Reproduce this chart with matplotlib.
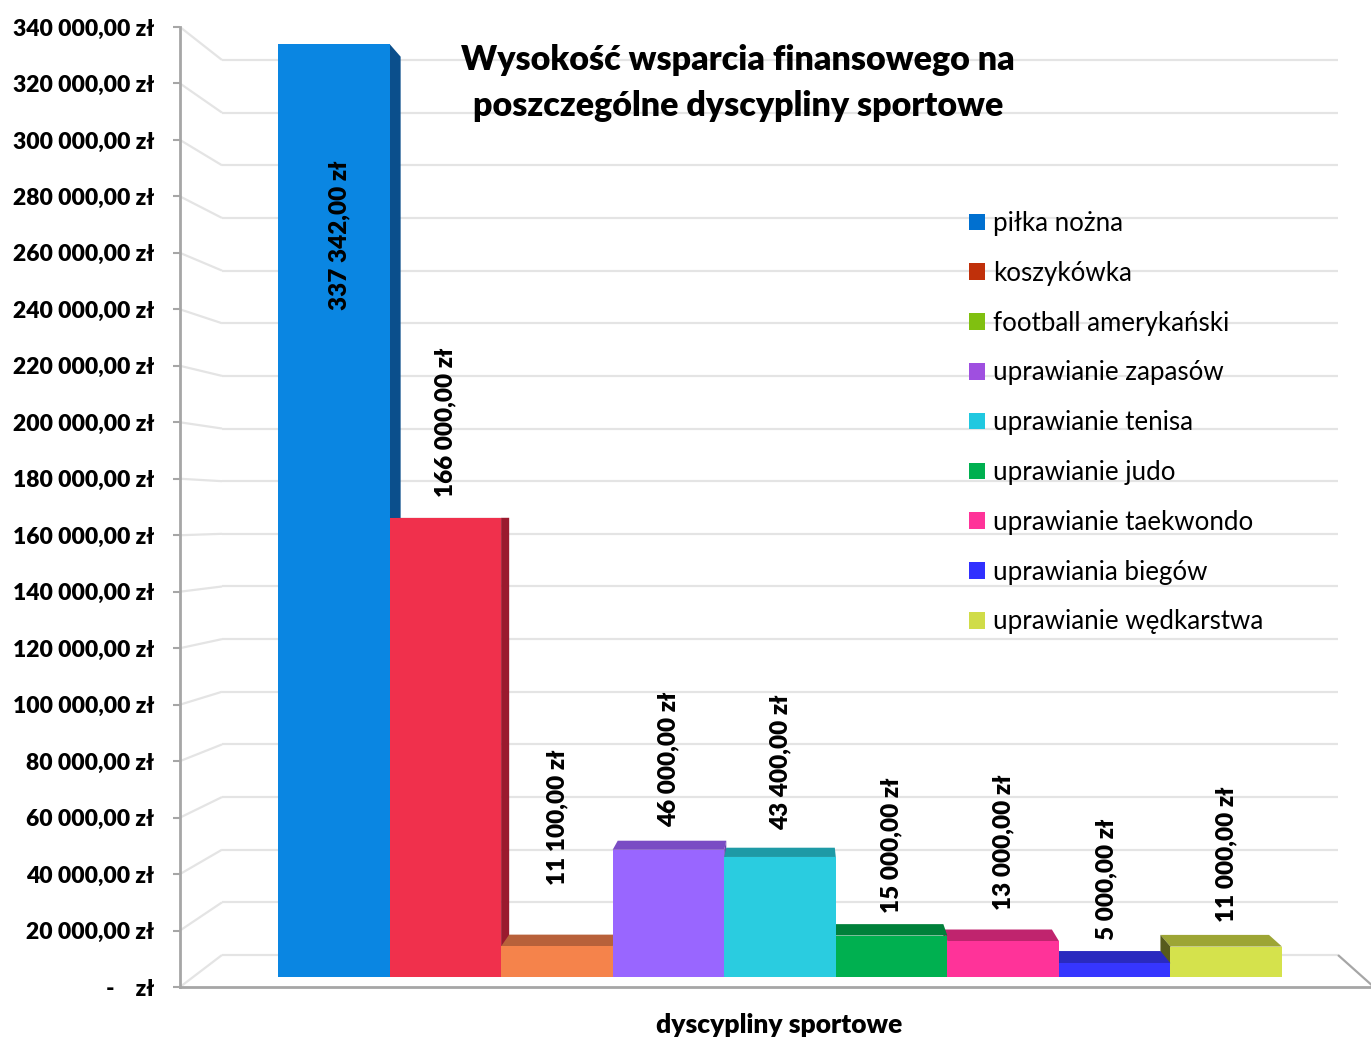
import matplotlib
matplotlib.use('Agg')
import matplotlib.pyplot as plt
from matplotlib.patches import Polygon, Patch
from matplotlib.lines import Line2D
import numpy as np

# ---------------- data ----------------
categories = ['piłka nożna', 'koszykówka', 'football amerykański', 'uprawianie zapasów',
              'uprawianie tenisa', 'uprawianie judo', 'uprawianie taekwondo',
              'uprawiania biegów', 'uprawianie wędkarstwa']
values = [337342.00, 166000.00, 11100.00, 46000.00, 43400.00, 15000.00, 13000.00, 5000.00, 11000.00]
y_ticks = list(range(0, 340001, 20000))
title_text = 'Wysokość wsparcia finansowego na\nposzczególne dyscypliny sportowe'
x_label = 'dyscypliny sportowe'

# ---------------- styles ----------------
front_colors = ['#0A86E2', '#F0304C', '#F5834B', '#9966FF', '#2ACCE0', '#00B050', '#FF3399', '#3636FF', '#D5E24C']
top_colors = ['#0B5FA8', '#B3243A', '#B8613A', '#7A4CC4', '#1E9AA6', '#00803A', '#C0246E', '#2A2ABF', '#9DA535']
side_colors = ['#0B4F8C', '#9A1A2E', '#A0502E', '#6A40B0', '#1A8896', '#006E32', '#A81E60', '#2222A0', '#575B1C']
legend_colors = ['#0070D0', '#C0300A', '#80C010', '#9F4FE0', '#20C8E0', '#00B050', '#FF3399', '#3030FF', '#D0DC48']
# label placement in pixels: (dx, distance from bar top to label bottom)
label_dx_px = [6, 0, 0, 0, 0, 0, 0, -8, 0]
label_dy_px = [-266, 21, 61, 23, 27, 23, 31, 23, 25]

FONT = 'Lato'
BOLD = 'heavy'
W, H = 1371, 1039
fig = plt.figure(figsize=(W / 100, H / 100), dpi=100)
fig.patch.set_facecolor('white')


def fx(x):
    return x / W


def fy(y):
    return 1 - y / H


def pline(xs, ys, color, lw, z=-1):
    fig.add_artist(Line2D([fx(x) for x in xs], [fy(y) for y in ys], color=color, lw=lw,
                          transform=fig.transFigure, zorder=z, solid_capstyle='butt'))


# ---------------- walls (back gridlines) ----------------
grid_c = '#E4E4E4'
for v in y_ticks:
    yb = 955 - v * 895 / 340000
    yf = 987 - v * 960 / 340000
    pline([222, 1338], [yb, yb], grid_c, 1.6)
    pline([180, 222], [yf, yb], grid_c, 1.6)
pline([1338, 1375], [955, 988], '#A6A6A6', 1.6)

# ---------------- front axis ----------------
ax = fig.add_axes([fx(180), fy(987), fx(1371) - fx(180), fy(27) - fy(987)])
ax.set_facecolor('none')
ax.set_ylim(0, 340000)
ax.set_xlim(0, 1)
for s in ['top', 'right']:
    ax.spines[s].set_visible(False)
for s in ['left', 'bottom']:
    ax.spines[s].set_color('#A6A6A6')
    ax.spines[s].set_linewidth(2)
ax.set_xticks([])


def fmt(v):
    if v == 0:
        return '-    zł'
    return f'{v:,.2f}'.replace(',', ' ').replace('.', ',') + ' zł'


ax.set_yticks(y_ticks)
ax.set_yticklabels([fmt(v) for v in y_ticks], fontfamily=FONT, fontweight=BOLD, fontsize=16.5)
ax.tick_params(axis='y', length=5, width=1.5, color='#A6A6A6', pad=13.5)

# ---------------- bars ----------------
ax_bar = fig.add_axes([fx(278), fy(977), fx(1282) - fx(278), fy(977 - 340000 * 933 / 337342) - fy(977)])
ax_bar.set_xlim(-0.5, len(values) - 0.5)
ax_bar.set_ylim(0, 340000)
ax_bar.axis('off')
ax_bar.set_facecolor('none')

x = np.arange(len(values))
bars = ax_bar.bar(x, values, width=1.0, color=front_colors, edgecolor='none')

VX, VY = 800, H - 514  # vanishing point in display coords
K = 0.027

fig.canvas.draw()
trans = ax_bar.transData

# drawing order: left bars left->right, right bars right->left, center last
order = {}
n = len(values)
lefts = [i for i in range(n) if trans.transform((i + 0.5, 0))[0] < VX]
rights = [i for i in range(n) if trans.transform((i - 0.5, 0))[0] > VX]
centers = [i for i in range(n) if i not in lefts and i not in rights]
seq = lefts + rights[::-1] + centers
for rank, i in enumerate(seq):
    order[i] = 2 + rank


def back(p):
    return (p[0] + K * (VX - p[0]), p[1] + K * (VY - p[1]))


def to_fig(pts):
    return [(p[0] / W, p[1] / H) for p in pts]


for i, v in enumerate(values):
    z = order[i]
    bars[i].set_zorder(z + 0.5)
    fl = trans.transform((i - 0.5, v))
    fr = trans.transform((i + 0.5, v))
    bl = trans.transform((i - 0.5, 0))
    br = trans.transform((i + 0.5, 0))
    if fl[1] < VY:  # top visible (below eye level)
        poly = Polygon(to_fig([fl, fr, back(fr), back(fl)]), closed=True, facecolor=top_colors[i],
                       edgecolor='none', transform=fig.transFigure, zorder=z, clip_on=False)
        ax_bar.add_patch(poly)
    if fr[0] < VX:
        poly = Polygon(to_fig([fr, back(fr), back(br), br]), closed=True, facecolor=side_colors[i],
                       edgecolor='none', transform=fig.transFigure, zorder=z, clip_on=False)
        ax_bar.add_patch(poly)
    if fl[0] > VX:
        poly = Polygon(to_fig([fl, back(fl), back(bl), bl]), closed=True, facecolor=side_colors[i],
                       edgecolor='none', transform=fig.transFigure, zorder=z + 0.1, clip_on=False)
        ax_bar.add_patch(poly)
    ax_bar.annotate(fmt(v), xy=(i, v), xytext=(label_dx_px[i] * 0.72, label_dy_px[i] * 0.72),
                    textcoords='offset points', rotation=90, ha='center', va='bottom',
                    fontfamily=FONT, fontweight=BOLD, fontsize=17.5, color='black', zorder=50,
                    annotation_clip=False)

# ---------------- texts ----------------
fig.text(fx(738), fy(44), title_text, ha='center', va='top', fontfamily=FONT, fontweight=BOLD,
         fontsize=24.5, linespacing=1.52)
fig.text(fx(779), fy(1025), x_label, ha='center', va='center', fontfamily=FONT, fontweight=BOLD,
         fontsize=19)

handles = [Patch(facecolor=c, edgecolor='none') for c in legend_colors]
leg = fig.legend(handles, categories, loc='upper left', bbox_to_anchor=(fx(969), fy(211)),
                 frameon=False, borderpad=0, borderaxespad=0, handlelength=0.62, handleheight=0.62,
                 handletextpad=0.31, labelspacing=0.96, prop={'family': FONT, 'size': 18.6})

fig.savefig('out.png', dpi=100)
